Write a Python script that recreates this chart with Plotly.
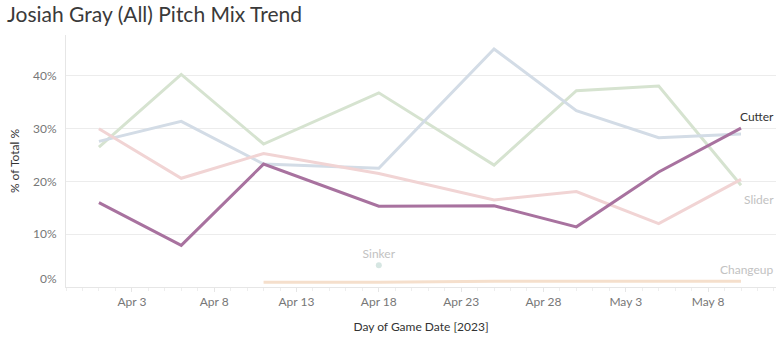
import plotly.graph_objects as go

# ---- data ----
dates = ["2023-04-01", "2023-04-06", "2023-04-11", "2023-04-18",
         "2023-04-25", "2023-04-30", "2023-05-05", "2023-05-10"]
cutter = [0.160, 0.079, 0.233, 0.153, 0.154, 0.114, 0.218, 0.301]
fourseam = [0.265, 0.403, 0.271, 0.368, 0.231, 0.372, 0.381, 0.193]
curveball = [0.276, 0.314, 0.233, 0.225, 0.451, 0.334, 0.283, 0.290]
slider = [0.300, 0.206, 0.253, 0.215, 0.165, 0.181, 0.120, 0.204]
changeup_dates = ["2023-04-11", "2023-04-18", "2023-04-25", "2023-04-30",
                  "2023-05-05", "2023-05-10"]
changeup = [0.009, 0.009, 0.011, 0.011, 0.011, 0.011]
sinker_dates = ["2023-04-18"]
sinker = [0.041]

ytick_vals = [0.1, 0.2, 0.3, 0.4]
ytick_text = ["10%", "20%", "30%", "40%"]
xtick_vals = ["2023-04-03", "2023-04-08", "2023-04-13", "2023-04-18",
              "2023-04-23", "2023-04-28", "2023-05-03", "2023-05-08"]
xtick_text = ["Apr 3", "Apr 8", "Apr 13", "Apr 18", "Apr 23", "Apr 28", "May 3", "May 8"]

FONT = "Lato"

fig = go.Figure()

def line(x, y, color, name, width=3):
    fig.add_trace(go.Scatter(x=x, y=y, mode="lines", name=name,
                             line=dict(color=color, width=width),
                             hoverinfo="x+y+name"))

line(dates, fourseam, "#d6e3d0", "Four-Seam Fastball")
line(dates, curveball, "#d3dce6", "Curveball")
line(dates, slider, "#f1d4d4", "Slider")
line(changeup_dates, changeup, "#f5dfcc", "Changeup")
fig.add_trace(go.Scatter(x=sinker_dates, y=sinker, mode="markers+text", name="Sinker",
                         marker=dict(color="#d6e6e2", size=6),
                         text=["Sinker"], textposition="top center",
                         textfont=dict(color="#c2c2c2", size=12, family=FONT)))
line(dates, cutter, "#a8729f", "Cutter", width=3)

# end-of-line labels
for txt, yv, col in [("Cutter", 0.324, "#333333"),
                     ("Slider", 0.166, "#c2c2c2"),
                     ("Changeup", 0.034, "#c2c2c2")]:
    fig.add_annotation(x=1, xref="paper", y=yv, yref="y", text=txt, showarrow=False,
                       xanchor="right", yanchor="middle",
                       font=dict(color=col, size=12, family=FONT))

# 0% label (raised, as in Tableau)
fig.add_annotation(x=0, xref="paper", y=0.017, yref="y", text="0%", showarrow=False,
                   xanchor="right", yanchor="middle", xshift=-7,
                   font=dict(color="#777777", size=12, family=FONT))

fig.update_layout(
    width=784, height=349,
    margin=dict(l=66, r=8, t=35, b=62),
    paper_bgcolor="white", plot_bgcolor="white",
    showlegend=False,
    font=dict(family=FONT, color="#555555"),
    title=dict(text="Josiah Gray (All) Pitch Mix Trend", x=0.009, xanchor="left",
               y=0.957, yanchor="middle",
               font=dict(size=21, color="#3a3a3a", family=FONT)),
    xaxis=dict(
        range=["2023-03-30", "2023-05-12 03:00"],
        tickvals=xtick_vals, ticktext=xtick_text,
        tickfont=dict(size=12, color="#777777", family=FONT),
        showgrid=False, zeroline=False,
        showline=True, linecolor="#e6e6e6", linewidth=1,
        ticks="outside", ticklen=4, tickcolor="#e6e6e6",
        minor=dict(dtick=86400000, ticks="outside", ticklen=3, tickcolor="#eeeeee", showgrid=False),
        title=dict(text="Day of Game Date [2023]", standoff=14,
                   font=dict(size=12, color="#333333", family=FONT)),
    ),
    yaxis=dict(
        range=[0, 0.4776],
        tickvals=ytick_vals, ticktext=ytick_text,
        tickfont=dict(size=12, color="#777777", family=FONT),
        showgrid=True, gridcolor="#ececec", gridwidth=1,
        zeroline=False, showline=True, linecolor="#e6e6e6", linewidth=1,
        ticks="", ticklabelstandoff=6,
        title=dict(text="% of Total %", standoff=10,
                   font=dict(size=12, color="#333333", family=FONT)),
    ),
)

fig.write_html("out.html")
